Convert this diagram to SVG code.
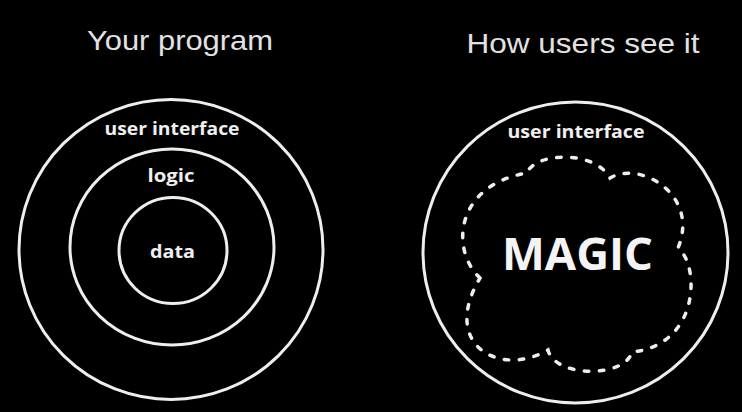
<svg xmlns="http://www.w3.org/2000/svg" width="742" height="412" viewBox="0 0 742 412">
  <style>
    .ring { fill: none; stroke: #eeeeee; stroke-width: 3; }
    .cloud { fill: none; stroke: #eeeeee; stroke-width: 3.5; stroke-dasharray: 4.5 10.5; stroke-linecap: round; }
    .title { font-family: "Liberation Sans", Arial, sans-serif; font-size: 28px; fill: #e2e2e2; text-anchor: middle; }
    .label { font-family: "Open Sans", "Liberation Sans", sans-serif; font-weight: bold; font-size: 18.5px; fill: #efefef; text-anchor: middle; }
    .magic { font-family: "Open Sans", "Liberation Sans", sans-serif; font-weight: bold; font-size: 44px; fill: #f4f4f4; text-anchor: middle; }
  </style>
  <rect width="742" height="412" fill="#000000"/>

  <!-- headings -->
  <text class="title" x="180" y="50" textLength="186" lengthAdjust="spacingAndGlyphs">Your program</text>
  <text class="title" x="583" y="53" textLength="233" lengthAdjust="spacingAndGlyphs">How users see it</text>

  <!-- left: layered program -->
  <g id="program-ui">
    <ellipse class="ring" cx="171" cy="249.5" rx="152" ry="150"/>
    <text class="label" x="172" y="135" textLength="135" lengthAdjust="spacingAndGlyphs">user interface</text>
  </g>
  <g id="program-logic">
    <ellipse class="ring" cx="172" cy="247" rx="102" ry="98"/>
    <text class="label" x="171" y="182" textLength="47" lengthAdjust="spacingAndGlyphs">logic</text>
  </g>
  <g id="program-data">
    <ellipse class="ring" cx="173" cy="250.5" rx="54" ry="53"/>
    <text class="label" x="172.5" y="258" textLength="45" lengthAdjust="spacingAndGlyphs">data</text>
  </g>

  <!-- right: user's view -->
  <g id="view-ui">
    <ellipse class="ring" cx="575.5" cy="252.5" rx="152.5" ry="150.5"/>
    <text class="label" x="576" y="138" textLength="137" lengthAdjust="spacingAndGlyphs">user interface</text>
  </g>
  <g id="view-magic">
    <path class="cloud" d="M480,278
      C450,250 455,185 527,173
      C535,152 595,150 610,178
      C640,160 700,195 678,248
      C700,265 700,345 632,352
      C625,378 555,378 548,350
      C500,378 440,345 480,278 Z"/>
    <text class="magic" x="577.5" y="270" textLength="151" lengthAdjust="spacingAndGlyphs">MAGIC</text>
  </g>

  <g id="connectors"/>
</svg>
